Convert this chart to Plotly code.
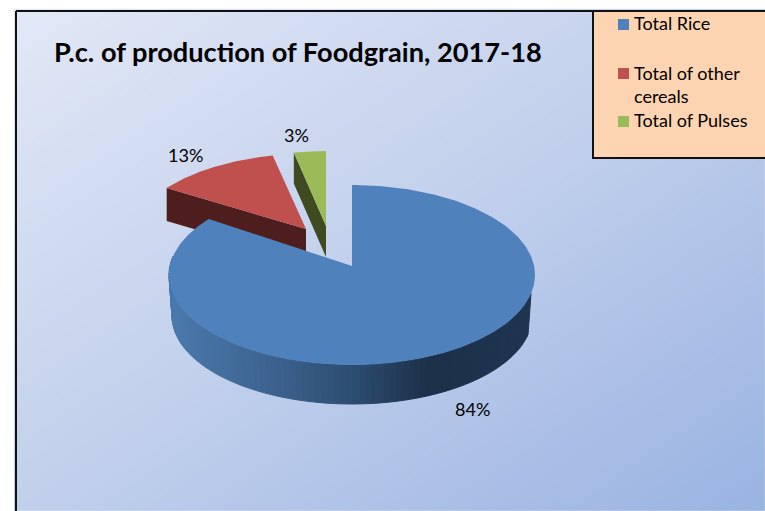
import numpy as np
import plotly.graph_objects as go

W, H = 765, 511

# Data
categories = ["Total Rice", "Total of other cereals", "Total of Pulses"]
values = [84, 13, 3]
value_labels = ["84%", "13%", "3%"]
legend_labels = ["Total Rice", "Total of other<br>cereals", "Total of Pulses"]
title_text = "P.c. of production of Foodgrain, 2017-18"

TOP = ["#4f81bd", "#c0504d", "#9bbb59"]
SIDE = [None, "#4e1e1e", "#3f4a20"]


def warp(deg):
    """Screen-angle correction for the perspective of the tilted pie."""
    return deg + 12 * np.sin(np.radians(deg)) ** 4


cum = np.cumsum([0] + values) / sum(values) * 360
starts, ends = cum[:-1], cum[1:]


def arc(cx, cy, rx, ry, a0, a1, n=120):
    t = np.radians(warp(np.linspace(a0, a1, n)))
    return cx + rx * np.sin(t), cy - ry * np.cos(t)


def poly(fig, x, y, color, line=0, line_color=None):
    fig.add_trace(go.Scatter(
        x=list(x) + [x[0]], y=list(y) + [y[0]], mode="lines", fill="toself",
        fillcolor=color, line=dict(color=line_color or color, width=line),
        hoverinfo="skip", showlegend=False))


fig = go.Figure()

# Gradient background
gx = np.linspace(17, W, 120)
gy = np.linspace(12, H, 80)
gz = 0.5 * gx[None, :] / W + 0.5 * gy[:, None] / H
fig.add_trace(go.Heatmap(
    x=gx, y=gy, z=gz, showscale=False, hoverinfo="skip", zsmooth="best", zmin=0, zmax=1,
    colorscale=[[0, "#e3e9f6"], [0.5, "#c2d0ec"], [1, "#99b3e2"]]))

# Slice geometry: (centre x, centre y, apex y, depth, x radius)
R = (352, 275, 266, 39, 183)
G = (306, 244, 229, 33, 178)
B = (326, 241, 226, 31, 172)
RY = 90

# Red slice (behind)
cx, cy, ay, d, rx = G
ax_, ay_ = arc(cx, cy, rx, RY, starts[1], ends[1])
poly(fig, [ax_[0], cx, cx, ax_[0]], [ay_[0], ay, ay + d, ay_[0] + d], SIDE[1])
poly(fig, np.r_[cx, ax_], np.r_[ay, ay_], TOP[1])

# Green slice (behind)
cx, cy, ay, d, rx = B
ax_, ay_ = arc(cx, cy, rx, RY, starts[2], ends[2], 40)
poly(fig, [ax_[0], cx, cx, ax_[0]], [ay_[0], ay, ay + d, ay_[0] + d], SIDE[2])
poly(fig, np.r_[cx, ax_], np.r_[ay, ay_], TOP[2])

# Blue slice: shaded outer wall, then top face
cx, cy, ay, d, rx = R
stops_x = [169, 250, 350, 430, 535]
stops_c = np.array([[74, 122, 172], [64, 104, 150], [46, 78, 114], [28, 48, 73], [31, 53, 80]])
seg = np.linspace(90, 270, 91)
for a, b in zip(seg[:-1], seg[1:]):
    tx, ty = arc(cx, cy, rx, RY, a, b, 2)
    bx, by = arc(cx, cy + 41, rx - 3, RY - 2, a, b, 2)
    mid = (tx[0] + tx[1]) / 2
    col = [int(np.interp(mid, stops_x, stops_c[:, i])) for i in range(3)]
    poly(fig, [tx[0], tx[1], bx[1], bx[0]], [ty[0], ty[1], by[1], by[0]], f"rgb{tuple(col)}", 1)
ax_, ay_ = arc(cx, cy, rx, RY, starts[0], ends[0], 360)
poly(fig, np.r_[cx, ax_], np.r_[ay, ay_], TOP[0])

# Legend box and swatches
poly(fig, [593, W + 5, W + 5, 593], [11, 11, 158, 158], "#fdd4b2", 2, "#111")
fig.add_trace(go.Scatter(
    x=[623.5] * 3, y=[24.5, 73.5, 121.5], mode="markers",
    marker=dict(symbol="square", size=11, color=TOP, line=dict(width=0)),
    hoverinfo="skip", showlegend=False))

FONT = "Lato, Carlito, sans-serif"
ann = []
for txt, x, y in zip(value_labels, [472, 185, 296], [409, 155, 135]):
    ann.append(dict(x=x, y=y, text=txt, showarrow=False, xref="x", yref="y",
                    font=dict(family=FONT, size=18, color="#000")))
for txt, y in zip(legend_labels, [23, 84, 120]):
    ann.append(dict(x=632, y=y, text=txt, showarrow=False, xref="x", yref="y",
                    xanchor="left", align="left",
                    font=dict(family=FONT, size=18, color="#000")))
ann.append(dict(x=52, y=51, text=f"<b>{title_text}</b>", showarrow=False, xref="x", yref="y",
                xanchor="left", font=dict(family=FONT, size=27.2, color="#000")))

shapes = [
    dict(type="line", xref="x", yref="y", x0=16, y0=11, x1=W, y1=11, line=dict(color="#111", width=2)),
    dict(type="line", xref="x", yref="y", x0=16, y0=11, x1=16, y1=H, line=dict(color="#111", width=2)),
]

fig.update_layout(
    width=W, height=H, margin=dict(l=0, r=0, t=0, b=0),
    paper_bgcolor="white", plot_bgcolor="white",
    xaxis=dict(range=[0, W], visible=False, fixedrange=True),
    yaxis=dict(range=[H, 0], visible=False, fixedrange=True),
    annotations=ann, shapes=shapes, showlegend=False,
)
fig.write_html("out.html", config={"displayModeBar": False},
               post_script="document.body.style.margin='0';document.documentElement.style.overflow='hidden';")
